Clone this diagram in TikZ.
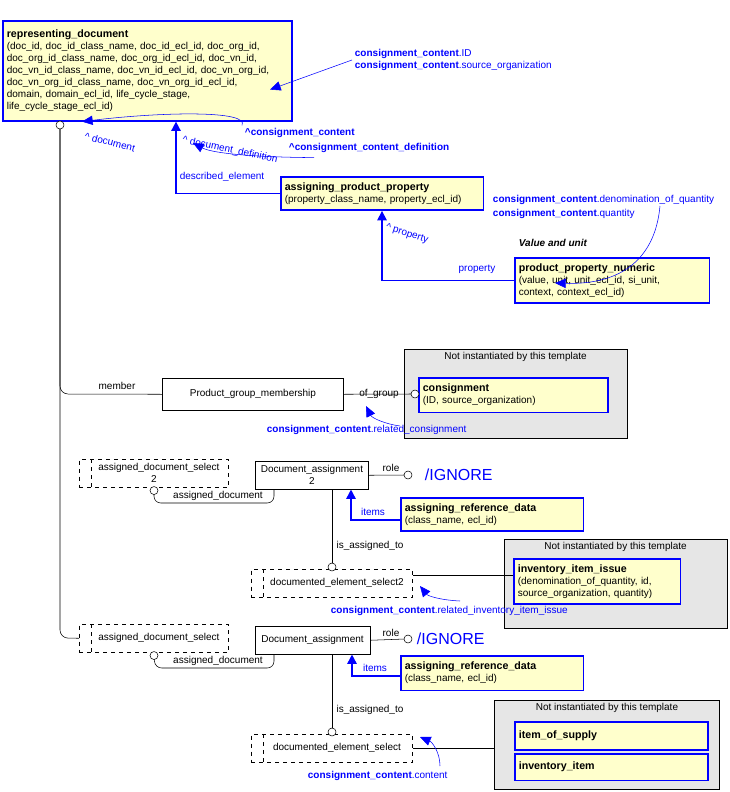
\documentclass[tikz,border=0pt]{standalone}
\usepackage{fontspec}
\setmainfont{Liberation Sans}
\usetikzlibrary{arrows.meta,positioning,calc}
\definecolor{entfill}{RGB}{255,255,204}
\definecolor{grayfill}{RGB}{230,230,230}
\definecolor{linkblue}{RGB}{0,0,255}
\tikzset{
  every node/.style={font=\fontsize{7.5}{9}\selectfont, inner sep=2pt},
  ent/.style={draw=linkblue, line width=1.2pt, fill=entfill, anchor=north west, align=left, inner sep=3pt},
  plain/.style={draw, fill=white, anchor=north west, align=center},
  sel/.style={draw, dashed, anchor=north west, align=center},
  grp/.style={draw, fill=grayfill, anchor=north west},
  blab/.style={text=linkblue},
  blink/.style={draw=linkblue, line width=1.2pt, -{Triangle[width=7pt,length=7pt]}},
  thin/.style={draw=linkblue, -{Triangle[width=7pt,length=8pt]}},
  lolly/.style={draw, circle, fill=white, inner sep=0pt, minimum size=6pt}
}
\newcommand{\cc}{\textbf{consignment\_content}}
\begin{document}
\begin{tikzpicture}[x=0.75pt, y=-0.75pt]
    \useasboundingbox (0,0) rectangle (729,792);

    % Representing document
    \node[ent, text width=211pt, minimum height=75pt] (rd) at (2,20) {
        {\fontsize{8}{10}\selectfont\textbf{representing\_document}}\\
        (doc\_id, doc\_id\_class\_name, doc\_id\_ecl\_id, doc\_org\_id,\\
        doc\_org\_id\_class\_name, doc\_org\_id\_ecl\_id, doc\_vn\_id,\\
        doc\_vn\_id\_class\_name, doc\_vn\_id\_ecl\_id, doc\_vn\_org\_id,\\
        doc\_vn\_org\_id\_class\_name, doc\_vn\_org\_id\_ecl\_id,\\
        domain, domain\_ecl\_id, life\_cycle\_stage,\\
        life\_cycle\_stage\_ecl\_id)};
    \node[blab, anchor=west, align=left] (ccid) at (352,60) {\cc.ID\\\cc.source\_organization};
    \draw[thin] (ccid.west) -- ($(rd.south west)+(268,-32)$);

    % Inverse references
    \node[blab, anchor=west] (invcc) at (242,133) {\textbf{\^{}consignment\_content}};
    \node[blab, anchor=west] (invccd) at (286,148) {\textbf{\^{}consignment\_content\_definition}};
    \draw[thin] (invcc.north west) .. controls (250,110) and (160,112) .. ($(rd.south west)+(80,0)$);
    \node[blab, rotate=-14] at (110,142) {\^{} document};
    \draw[thin] ($(invccd.south west)+(28,2)$) .. controls (240,157) and (210,152) .. (193,143);
    \node[blab, rotate=-12] at (230,150) {\^{} document\_definition};

    % Product property
    \node[ent, text width=146pt, minimum height=25pt] (app) at (280,176) {
        {\fontsize{8}{10}\selectfont\textbf{assigning\_product\_property}}\\
        (property\_class\_name, property\_ecl\_id)};
    \draw[blink] (app.west) -| ($(rd.south west)+(174,0)$);
    \node[blab] at (222,177) {described\_element};

    \node[font=\fontsize{7.5}{9}\selectfont\bfseries\itshape, anchor=west] (vu) at (516,243) {Value and unit};
    \node[ent, text width=140pt, minimum height=34pt] (ppn) at (514,257) {
        {\fontsize{8}{10}\selectfont\textbf{product\_property\_numeric}}\\
        (value, unit, unit\_ecl\_id, si\_unit,\\
        context, context\_ecl\_id)};
    \draw[blink] (ppn.west) -| ($(app.south west)+(102,0)$);
    \node[blab] at (477,269) {property};
    \node[blab, rotate=-18] at (407,234) {\^{} property};
    \node[blab, anchor=west, align=left] (ccq) at (490,207) {\cc.denomination\_of\_quantity\\[2pt]\cc.quantity};
    \draw[thin] (660,206) .. controls (655,260) and (620,285) .. (555,283);

    % Product group membership
    \coordinate (trunk) at (60,125);
    \node[plain, minimum width=136pt, minimum height=24pt] (pgm) at (162,378) {Product\_group\_membership};
    \node[grp, minimum width=167pt, minimum height=67pt] (ng1) at (404,349) {};
    \node[anchor=north] at (ng1.north) {Not instantiated by this template};
    \node[ent, text width=136pt, minimum height=26pt] (cons) at (418,377) {
        {\fontsize{8}{10}\selectfont\textbf{consignment}}\\
        (ID, source\_organization)};
    \draw[rounded corners=6pt] (trunk) -- (60,394) -- (pgm.west);
    \node at (117,386) {member};
    \draw (pgm.east) -- (412,394);
    \node at (379,394) {of\_group};
    \node[lolly] at (415,394) {};
    \node[blab, anchor=west] (ccrc) at (264,430) {\cc.related\_consignment};
    \draw[thin] (400,426) .. controls (385,424) and (372,418) .. (366,406);

    % Document assignment 2
    \node[sel, minimum width=112pt, minimum height=21pt] (ads2) at (79,459) {\quad assigned\_document\_select\\ 2};
    \draw[dashed] ($(ads2.north west)+(12,0)$) -- ($(ads2.south west)+(12,0)$);
    \node[plain, minimum width=85pt, minimum height=21pt, inner sep=1pt] (da2) at (255,461) {Document\_assignment\\2};
    \draw[rounded corners=5pt] ($(ads2.south west)+(75,3)$) -- (154,503) -- (274,503) -- ($(da2.south west)+(19,0)$);
    \node[lolly] at ($(ads2.south west)+(75,3)$) {};
    \node at (218,496) {assigned\_document};
    \draw (da2.east) -- (405,475);
    \node[lolly] at (408,475) {};
    \node at (391,468) {role};
    \node[blab, font=\fontsize{12}{14}\selectfont, anchor=west] at (422,475) {/IGNORE};
    \node[ent, text width=131pt, minimum height=25pt] (ard2) at (400,497) {
        {\fontsize{8}{10}\selectfont\textbf{assigning\_reference\_data}}\\
        (class\_name, ecl\_id)};
    \draw[blink] ($(ard2.south west)+(0,-12)$) -| ($(da2.south west)+(96,0)$);
    \node[blab] at (373,512) {items};
    \node[sel, minimum width=121pt, minimum height=21pt] (des2) at (251,569) {\quad documented\_element\_select2};
    \draw[dashed] ($(des2.north west)+(12,0)$) -- ($(des2.south west)+(12,0)$);
    \draw ($(da2.south west)+(77,0)$) -- ($(des2.north west)+(81,-3)$);
    \node[lolly] at ($(des2.north west)+(81,-2)$) {};
    \node at (370,546) {is\_assigned\_to};
    \node[grp, minimum width=167pt, minimum height=67pt] (ng2) at (504,539) {};
    \node[anchor=north] at (ng2.north) {Not instantiated by this template};
    \node[ent, text width=119pt, minimum height=34pt] (iii) at (513,558) {
        {\fontsize{8}{10}\selectfont\textbf{inventory\_item\_issue}}\\
        (denomination\_of\_quantity, id,\\
        source\_organization, quantity)};
    \draw ($(des2.north east)+(0,6)$) -- ($(iii.north west)+(0,17)$);
    \node[blab, anchor=west] (ccri) at (328,611) {\cc.related\_inventory\_item\_issue};
    \draw[thin] (460,601) .. controls (440,600) and (428,596) .. (420,586);

    % Document assignment
    \node[sel, minimum width=112pt, minimum height=21pt] (ads) at (79,624) {\quad assigned\_document\_select};
    \draw[dashed] ($(ads.north west)+(12,0)$) -- ($(ads.south west)+(12,0)$);
    \draw[rounded corners=6pt] (trunk) -- (60,638) -- (ads.west);
    \node[lolly] at (trunk) {};
    \node[plain, minimum width=86pt, minimum height=21pt] (da) at (255,626) {Document\_assignment};
    \draw[rounded corners=5pt] ($(ads.south west)+(75,3)$) -- (155,668) -- (274,668) -- ($(da.south west)+(19,0)$);
    \node[lolly] at ($(ads.south west)+(75,3)$) {};
    \node at (218,661) {assigned\_document};
    \draw (da.east) -- (405,639);
    \node[lolly] at (408,639) {};
    \node at (391,633) {role};
    \node[blab, font=\fontsize{12}{14}\selectfont, anchor=west] at (414,639) {/IGNORE};
    \node[ent, text width=131pt, minimum height=26pt] (ard) at (400,655) {
        {\fontsize{8}{10}\selectfont\textbf{assigning\_reference\_data}}\\
        (class\_name, ecl\_id)};
    \draw[blink] ($(ard.north west)+(0,21)$) -| ($(da.south west)+(97,0)$);
    \node[blab] at (375,668) {items};
    \node[sel, minimum width=121pt, minimum height=21pt] (des) at (251,734) {\quad documented\_element\_select};
    \draw[dashed] ($(des.north west)+(12,0)$) -- ($(des.south west)+(12,0)$);
    \draw ($(da.south west)+(77,0)$) -- ($(des.north west)+(81,-3)$);
    \node[lolly] at ($(des.north west)+(81,-2)$) {};
    \node at (370,710) {is\_assigned\_to};
    \node[grp, minimum width=169pt, minimum height=67pt] (ng3) at (494,700) {};
    \node[anchor=north] at (ng3.north) {Not instantiated by this template};
    \node[ent, text width=139pt, minimum height=21pt] (ios) at (514,721) {{\fontsize{8}{10}\selectfont\textbf{item\_of\_supply}}};
    \node[ent, text width=139pt, minimum height=20pt] (ii) at (514,753) {{\fontsize{8}{10}\selectfont\textbf{inventory\_item}}};
    \draw (des.east) -- (ng3.west |- des.east);
    \node[blab, anchor=west] (cccn) at (305,776) {\cc.content};
    \draw[thin] (440,766) .. controls (440,752) and (432,742) .. (420,737);
\end{tikzpicture}
\end{document}
